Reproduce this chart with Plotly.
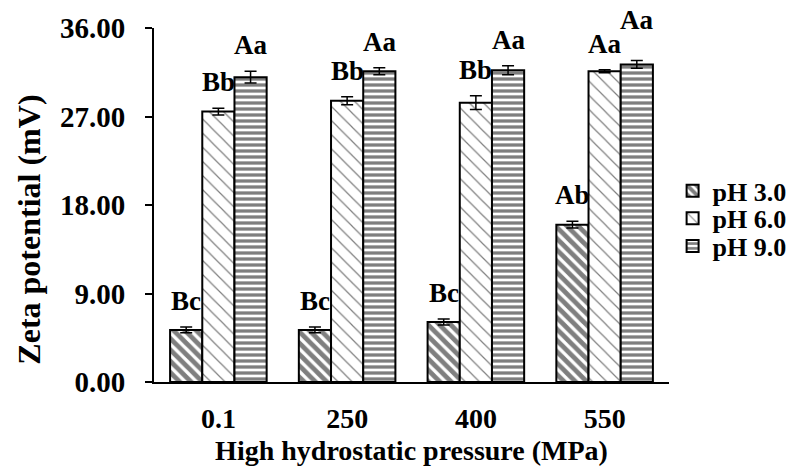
import plotly.graph_objects as go

# Zeta potential of samples treated at different pressures and pH
pressures = ["0.1", "250", "400", "550"]
series_names = ["pH 3.0", "pH 6.0", "pH 9.0"]

ph3_values = [5.3, 5.3, 6.1, 16.0]
ph6_values = [27.5, 28.6, 28.4, 31.6]
ph9_values = [31.0, 31.6, 31.7, 32.3]

ph3_errors = [0.3, 0.3, 0.3, 0.35]
ph6_errors = [0.35, 0.4, 0.7, 0.15]
ph9_errors = [0.6, 0.35, 0.45, 0.4]

ph3_letters = ["Bc", "Bc", "Bc", "Ab"]
ph6_letters = ["Bb", "Bb", "Bb", "Aa"]
ph9_letters = ["Aa", "Aa", "Aa", "Aa"]

y_ticks = [0, 9, 18, 27, 36]

FONT = "Liberation Serif"

patterns = [
    dict(shape="\\", fgcolor="black", bgcolor="white", size=8, solidity=0.6),
    dict(shape="\\", fgcolor="black", bgcolor="white", size=10, solidity=0.12),
    dict(shape="-", fgcolor="black", bgcolor="white", size=6, solidity=0.55),
]

values = [ph3_values, ph6_values, ph9_values]
errors = [ph3_errors, ph6_errors, ph9_errors]
letters = [ph3_letters, ph6_letters, ph9_letters]
legend_ids = ["legend", "legend2", "legend3"]

fig = go.Figure()
for name, vals, errs, pat, lg in zip(series_names, values, errors, patterns, legend_ids):
    fig.add_trace(go.Bar(
        x=pressures, y=vals, name=name, legend=lg,
        marker=dict(color="white", pattern=pat,
                    line=dict(color="black", width=2)),
        error_y=dict(type="data", array=errs, color="black",
                     thickness=1.5, width=6),
    ))

# significance letters above each bar; a letter that would sit level with
# its left neighbour is lifted so the two do not run together
offsets = [-0.25, 0.0, 0.25]
label_font = dict(family=FONT, size=27, color="black", weight="bold")
for i in range(len(pressures)):
    prev_top = None
    for s in range(len(series_names)):
        top = values[s][i] + errors[s][i]
        lift = 14 if (prev_top is not None and abs(top - prev_top) < 1.5) else 0
        fig.add_annotation(
            x=i + offsets[s], y=top, text=letters[s][i], showarrow=False,
            yanchor="middle", yshift=26 + lift, font=label_font,
        )
        prev_top = top

# vertical axis title
fig.add_annotation(
    xref="paper", yref="paper", x=-0.243, y=0.43,
    text="Zeta potential (mV)", textangle=-90, showarrow=False,
    xanchor="center", yanchor="middle",
    font=dict(family=FONT, size=32, color="black", weight="bold"),
)

legend_font = dict(family=FONT, size=26, color="black", weight="bold")
legend_common = dict(x=1.007, xanchor="left", yanchor="middle",
                     font=legend_font, bgcolor="rgba(0,0,0,0)",
                     borderwidth=0)

fig.update_layout(
    width=804, height=473,
    margin=dict(l=154, r=115, t=22, b=90),
    paper_bgcolor="white", plot_bgcolor="white",
    barmode="group", bargap=0.25, bargroupgap=0,
    font=dict(family=FONT, size=27, color="black", weight="bold"),
    showlegend=True,
    legend=dict(y=0.54, **legend_common),
    legend2=dict(y=0.462, **legend_common),
    legend3=dict(y=0.384, **legend_common),
    xaxis=dict(
        showline=True, linecolor="black", linewidth=2,
        ticks="", showgrid=False, ticklabelstandoff=10,
        tickfont=dict(family=FONT, size=28, weight="bold"),
        title=dict(text="High hydrostatic pressure (MPa)",
                   font=dict(family=FONT, size=28, weight="bold"), standoff=8),
    ),
    yaxis=dict(
        range=[0, 36], tickvals=y_ticks, tickformat=".2f",
        showline=True, linecolor="black", linewidth=2,
        ticks="outside", ticklen=7, tickwidth=2, tickcolor="black",
        showgrid=False, zeroline=False, ticklabelstandoff=14,
        tickfont=dict(family=FONT, size=29, weight="bold"),
    ),
)

fig.write_html("out.html")
